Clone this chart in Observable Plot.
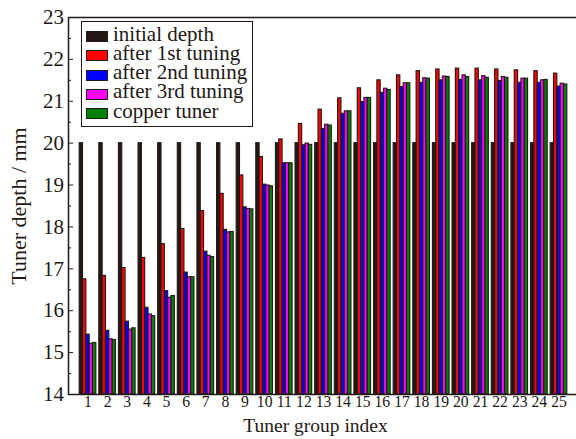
<!DOCTYPE html>
<html><head><meta charset="utf-8">
<script src="https://cdn.jsdelivr.net/npm/d3@7"></script>
<script src="https://cdn.jsdelivr.net/npm/@observablehq/plot@0.6"></script>
<style>
html,body{margin:0;padding:0;overflow:hidden;background:#fff;}
#wrap{position:relative;width:576px;height:439px;overflow:hidden;}
#wrap svg{max-width:none !important;}
#legend{position:absolute;left:81px;top:21px;width:172px;height:106px;box-sizing:border-box;border:1.5px solid #231815;background:#fff;font-family:"Liberation Serif","Times New Roman",Times,serif;font-size:21px;color:#231815;padding:2.5px 0 0 4px;}
.row{display:flex;align-items:flex-start;height:19.3px;white-space:nowrap;}
.sw{width:20px;height:9px;border:1px solid #231815;margin:6.5px 5px 0 0;flex:none;}
.lt{display:inline-block;height:19.3px;line-height:19.3px;overflow:visible;}
</style></head><body><div id="wrap"></div>
<script>
const groups = [1,2,3,4,5,6,7,8,9,10,11,12,13,14,15,16,17,18,19,20,21,22,23,24,25];
const seriesNames = ["initial depth","after 1st tuning","after 2nd tuning","after 3rd tuning","copper tuner"];
const seriesColors = ["#231815","#ff0000","#0000ff","#ff00ff","#008000"];
const initialDepth = [20,20,20,20,20,20,20,20,20,20,20,20,20,20,20,20,20,20,20,20,20,20,20,20,20];
const after1st = [16.75,16.83,17.02,17.26,17.59,17.95,18.38,18.79,19.23,19.67,20.09,20.46,20.80,21.07,21.31,21.50,21.62,21.72,21.76,21.78,21.78,21.76,21.74,21.72,21.66];
const after2nd = [15.43,15.52,15.74,16.07,16.47,16.91,17.41,17.93,18.47,19.01,19.52,19.95,20.34,20.70,20.98,21.20,21.34,21.44,21.50,21.51,21.50,21.48,21.44,21.44,21.35];
const after3rd = [15.21,15.32,15.55,15.91,16.31,16.80,17.31,17.87,18.43,18.99,19.52,19.99,20.44,20.76,21.08,21.30,21.43,21.55,21.59,21.62,21.60,21.58,21.54,21.50,21.42];
const copperTuner = [15.23,15.30,15.58,15.87,16.35,16.80,17.28,17.88,18.42,18.97,19.52,19.96,20.42,20.76,21.08,21.27,21.43,21.54,21.58,21.58,21.56,21.56,21.54,21.51,21.40];
const yMajor = [14,15,16,17,18,19,20,21,22,23];
const yMinor = [14.5,15.5,16.5,17.5,18.5,19.5,20.5,21.5,22.5];

const seriesValues = [initialDepth, after1st, after2nd, after3rd, copperTuner];
const xRange = [77.7, 568.3];
const pInner = 0.15;
const step = (xRange[1] - xRange[0]) / groups.length;
const sub = step * (1 - pInner) / seriesValues.length;
const ink = "#231815";
const serif = "'Liberation Serif', 'Times New Roman', Times, serif";

const bars = seriesValues.map((vals, i) => Plot.barY(groups, {
  x: d => d,
  y1: 14,
  y2: (d, j) => vals[j],
  fill: seriesColors[i],
  stroke: ink,
  strokeWidth: 1.1,
  insetLeft: i * sub,
  insetRight: (seriesValues.length - 1 - i) * sub
}));

const chart = Plot.plot({
  width: 580,
  height: 439,
  marginLeft: 68,
  marginRight: 0,
  marginTop: 17,
  marginBottom: 45,
  style: {fontFamily: serif, color: ink, background: "#fff", maxWidth: "none"},
  x: {type: "band", domain: groups, range: xRange, round: false, paddingInner: pInner, paddingOuter: pInner / 2, label: null},
  y: {domain: [14, 23], label: null},
  marks: [
    ...bars,
    Plot.frame({stroke: ink, strokeWidth: 1.5}),
    Plot.axisX({tickSize: 0, tickPadding: 1.5, fontSize: 15.7, fontFamily: serif, label: null}),
    Plot.axisY({ticks: yMajor, tickSize: 0, tickPadding: 4.5, fontSize: 21, fontFamily: serif, label: null}),
    Plot.axisY({ticks: yMajor, tickSize: -5, text: null, label: null}),
    Plot.axisY({ticks: yMinor, tickSize: -3, text: null, label: null}),
    Plot.text(["Tuner group index"], {frameAnchor: "bottom", lineAnchor: "middle", textAnchor: "middle", dx: -9, dy: 31.5, fontSize: 19.5, fontFamily: serif, fill: ink}),
    Plot.text(["Tuner depth / mm"], {frameAnchor: "left", lineAnchor: "middle", textAnchor: "middle", dx: -50, rotate: -90, fontSize: 22, fontFamily: serif, fill: ink})
  ]
});
const wrap = document.getElementById("wrap");
wrap.appendChild(chart);

const legend = document.createElement("div");
legend.id = "legend";
seriesNames.forEach((name, i) => {
  const row = document.createElement("div");
  row.className = "row";
  const sw = document.createElement("span");
  sw.className = "sw";
  sw.style.background = seriesColors[i];
  const t = document.createElement("span");
  t.className = "lt";
  t.textContent = name;
  row.appendChild(sw); row.appendChild(t);
  legend.appendChild(row);
});
wrap.appendChild(legend);
</script></body></html>
